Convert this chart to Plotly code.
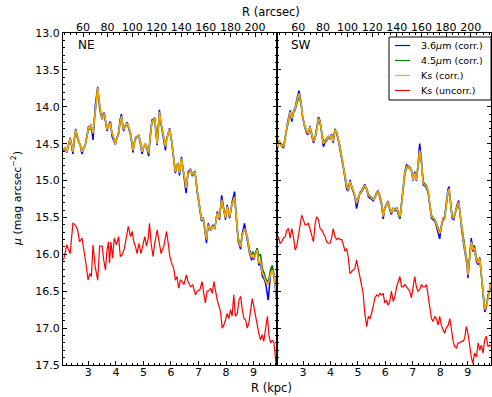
import plotly.graph_objects as go

# ---------------- NE panel ----------------
ne_r = [2.10, 2.16, 2.22, 2.28, 2.34, 2.39, 2.44, 2.49, 2.54, 2.60,
        2.65, 2.71, 2.77, 2.83, 2.89, 2.95, 3.01, 3.06, 3.10, 3.17,
        3.21, 3.25, 3.30, 3.34, 3.38, 3.41, 3.46, 3.50, 3.54, 3.58,
        3.63, 3.68, 3.74, 3.80, 3.86, 3.92, 3.98, 4.04, 4.10, 4.15,
        4.20, 4.24, 4.28, 4.34, 4.41, 4.47, 4.53, 4.58, 4.62, 4.67,
        4.71, 4.77, 4.83, 4.89, 4.95, 5.01, 5.07, 5.13, 5.19, 5.25,
        5.31, 5.36, 5.41, 5.46, 5.50, 5.54, 5.58, 5.63, 5.68, 5.74,
        5.80, 5.84, 5.88, 5.95, 6.02, 6.10, 6.16, 6.25, 6.31, 6.38,
        6.47, 6.55, 6.62, 6.71, 6.77, 6.87, 6.95, 7.04, 7.11, 7.17,
        7.23, 7.29, 7.35, 7.44, 7.52, 7.59, 7.68, 7.76, 7.84, 7.92,
        7.98, 8.04, 8.13, 8.22, 8.31, 8.37, 8.44, 8.53, 8.59, 8.67,
        8.77, 8.85, 8.93, 8.98, 9.01, 9.07, 9.13, 9.19, 9.25, 9.32,
        9.38, 9.44, 9.53, 9.62, 9.68, 9.75, 9.80, 9.85]

ne_36 = [14.60, 14.56, 14.62, 14.50, 14.42, 14.52, 14.64, 14.44, 14.30, 14.41,
         14.47, 14.53, 14.64, 14.56, 14.52, 14.38, 14.26, 14.31, 14.24, 14.45,
         14.18, 13.99, 13.84, 13.73, 13.88, 14.02, 14.12, 14.17, 14.10, 14.08,
         14.22, 14.33, 14.24, 14.20, 14.40, 14.46, 14.51, 14.42, 14.35, 14.18,
         14.10, 14.24, 14.33, 14.26, 14.21, 14.30, 14.38, 14.50, 14.62, 14.49,
         14.42, 14.40, 14.39, 14.50, 14.64, 14.54, 14.50, 14.57, 14.67, 14.38,
         14.18, 14.17, 14.15, 14.37, 14.52, 14.28, 14.04, 14.21, 14.33, 14.45,
         14.59, 14.44, 14.37, 14.29, 14.46, 14.74, 14.90, 14.76, 14.93, 14.68,
         14.92, 15.17, 14.88, 14.85, 14.94, 14.87, 15.15, 15.42, 15.55, 15.50,
         15.66, 15.85, 15.58, 15.68, 15.60, 15.66, 15.42, 15.53, 15.20, 15.41,
         15.53, 15.33, 15.51, 15.29, 15.15, 15.50, 15.82, 15.93, 15.72, 15.58,
         15.78, 15.98, 16.08, 15.98, 16.07, 16.00, 15.92, 16.15, 16.12, 16.30,
         16.33, 16.40, 16.62, 16.25, 16.18, 16.32, 16.47, 16.65]

ne_45 = [14.58, 14.55, 14.60, 14.52, 14.44, 14.50, 14.60, 14.46, 14.32, 14.40,
         14.48, 14.52, 14.60, 14.57, 14.51, 14.41, 14.28, 14.30, 14.26, 14.35,
         14.21, 14.01, 13.86, 13.76, 13.89, 14.00, 14.10, 14.15, 14.12, 14.10,
         14.20, 14.30, 14.26, 14.22, 14.35, 14.44, 14.49, 14.43, 14.37, 14.23,
         14.14, 14.22, 14.30, 14.27, 14.23, 14.28, 14.35, 14.47, 14.58, 14.50,
         14.44, 14.41, 14.38, 14.47, 14.60, 14.55, 14.51, 14.55, 14.62, 14.41,
         14.21, 14.19, 14.17, 14.35, 14.49, 14.31, 14.09, 14.20, 14.31, 14.41,
         14.53, 14.45, 14.39, 14.31, 14.45, 14.71, 14.87, 14.77, 14.89, 14.71,
         14.89, 15.09, 14.91, 14.86, 14.91, 14.88, 15.12, 15.39, 15.52, 15.51,
         15.64, 15.78, 15.61, 15.66, 15.62, 15.64, 15.45, 15.50, 15.27, 15.40,
         15.50, 15.36, 15.48, 15.32, 15.23, 15.48, 15.78, 15.88, 15.73, 15.66,
         15.75, 15.93, 16.02, 15.96, 16.02, 15.98, 15.92, 16.02, 16.00, 16.20,
         16.25, 16.33, 16.38, 16.20, 16.15, 16.28, 16.42, 16.58]

ne_ks = [14.59, 14.55, 14.61, 14.52, 14.43, 14.50, 14.61, 14.45, 14.31, 14.40,
         14.47, 14.52, 14.61, 14.57, 14.52, 14.40, 14.27, 14.30, 14.25, 14.36,
         14.20, 14.00, 13.85, 13.74, 13.88, 14.00, 14.10, 14.16, 14.12, 14.09,
         14.20, 14.31, 14.25, 14.22, 14.36, 14.45, 14.50, 14.43, 14.36, 14.22,
         14.13, 14.22, 14.31, 14.27, 14.22, 14.28, 14.36, 14.48, 14.59, 14.50,
         14.43, 14.41, 14.38, 14.48, 14.61, 14.55, 14.50, 14.55, 14.63, 14.40,
         14.20, 14.18, 14.16, 14.35, 14.50, 14.30, 14.07, 14.20, 14.31, 14.42,
         14.54, 14.45, 14.38, 14.30, 14.45, 14.72, 14.88, 14.77, 14.90, 14.70,
         14.90, 15.10, 14.90, 14.86, 14.92, 14.88, 15.13, 15.40, 15.53, 15.51,
         15.65, 15.80, 15.60, 15.67, 15.62, 15.65, 15.44, 15.51, 15.26, 15.40,
         15.51, 15.35, 15.49, 15.31, 15.22, 15.49, 15.80, 15.90, 15.74, 15.65,
         15.76, 15.96, 16.05, 15.99, 16.05, 16.01, 15.94, 16.12, 16.10, 16.26,
         16.30, 16.37, 16.41, 16.26, 16.21, 16.30, 16.44, 16.60]

ne_r_unc = [2.10, 2.16, 2.22, 2.28, 2.34, 2.44, 2.53, 2.61, 2.68, 2.77,
            2.83, 2.91, 2.99, 3.05, 3.11, 3.17, 3.25, 3.34, 3.41, 3.50,
            3.56, 3.62, 3.68, 3.73, 3.77, 3.82, 3.88, 3.94, 4.02, 4.10,
            4.16, 4.22, 4.31, 4.38, 4.45, 4.53, 4.59, 4.65, 4.71, 4.77,
            4.84, 4.91, 4.99, 5.05, 5.11, 5.17, 5.22, 5.28, 5.35, 5.41,
            5.50, 5.57, 5.64, 5.74, 5.84, 5.90, 5.96, 6.04, 6.10, 6.16,
            6.22, 6.28, 6.34, 6.41, 6.47, 6.56, 6.62, 6.71, 6.79, 6.89,
            6.95, 7.05, 7.13, 7.19, 7.25, 7.31, 7.37, 7.44, 7.50, 7.56,
            7.62, 7.68, 7.74, 7.80, 7.86, 7.92, 7.98, 8.04, 8.10, 8.16,
            8.22, 8.28, 8.34, 8.41, 8.47, 8.53, 8.59, 8.65, 8.71, 8.77,
            8.83, 8.89, 8.95, 9.01, 9.07, 9.13, 9.19, 9.25, 9.31, 9.37,
            9.44, 9.50, 9.56, 9.62, 9.68, 9.74, 9.78, 9.82]

ne_ks_unc = [16.08, 15.99, 15.87, 15.94, 15.99, 15.58, 15.60, 15.67, 15.83, 15.78,
             15.96, 16.12, 16.35, 16.26, 16.30, 15.87, 16.17, 16.35, 15.89, 15.89,
             16.08, 16.21, 15.94, 15.83, 16.12, 15.83, 16.05, 15.78, 15.87, 15.76,
             16.03, 16.01, 15.92, 15.76, 15.62, 15.76, 15.69, 15.83, 15.89, 15.99,
             15.85, 15.99, 15.85, 15.76, 15.89, 15.80, 15.58, 15.85, 16.03, 15.85,
             15.67, 15.85, 15.99, 15.89, 15.69, 15.85, 16.03, 16.14, 16.19, 16.35,
             16.30, 16.46, 16.35, 16.37, 16.41, 16.28, 16.37, 16.44, 16.41, 16.55,
             16.50, 16.48, 16.37, 16.53, 16.66, 16.50, 16.50, 16.46, 16.53, 16.37,
             16.50, 16.62, 16.69, 16.78, 17.00, 16.96, 16.89, 16.80, 16.87, 16.75,
             16.84, 16.55, 16.84, 16.80, 16.62, 16.57, 16.75, 16.87, 16.89, 17.00,
             16.93, 16.75, 16.60, 16.71, 16.84, 16.93, 17.07, 17.16, 17.09, 17.18,
             17.02, 16.84, 17.11, 17.20, 17.16, 17.20, 17.35, 17.52]

# ---------------- SW panel ----------------
sw_r = [2.06, 2.08, 2.13, 2.18, 2.22, 2.29, 2.37, 2.44, 2.53, 2.59,
        2.65, 2.71, 2.78, 2.85, 2.93, 2.98, 3.05, 3.13, 3.19, 3.25,
        3.32, 3.38, 3.44, 3.50, 3.56, 3.62, 3.68, 3.74, 3.80, 3.86,
        3.92, 3.98, 4.04, 4.10, 4.16, 4.22, 4.28, 4.35, 4.41, 4.47,
        4.53, 4.59, 4.65, 4.71, 4.77, 4.83, 4.89, 4.95, 5.01, 5.07,
        5.13, 5.19, 5.25, 5.32, 5.38, 5.44, 5.50, 5.56, 5.62, 5.68,
        5.74, 5.80, 5.86, 5.92, 5.98, 6.04, 6.10, 6.16, 6.22, 6.28,
        6.35, 6.41, 6.47, 6.53, 6.59, 6.65, 6.71, 6.77, 6.83, 6.89,
        6.95, 7.01, 7.07, 7.13, 7.19, 7.25, 7.32, 7.38, 7.44, 7.50,
        7.56, 7.62, 7.68, 7.74, 7.80, 7.86, 7.92, 7.98, 8.04, 8.10,
        8.16, 8.22, 8.28, 8.32, 8.37, 8.43, 8.49, 8.55, 8.61, 8.67,
        8.73, 8.79, 8.85, 8.92, 8.98, 9.01, 9.07, 9.13, 9.19, 9.25,
        9.32, 9.38, 9.44, 9.50, 9.56, 9.62, 9.68, 9.74, 9.80, 9.85]

sw_36 = [14.52, 14.55, 14.46, 14.51, 14.53, 14.56, 14.35, 14.20, 14.05, 14.20,
         14.06, 14.02, 13.89, 13.78, 13.94, 14.14, 14.26, 14.36, 14.38, 14.26,
         14.40, 14.49, 14.42, 14.30, 14.14, 14.19, 14.38, 14.54, 14.48, 14.46,
         14.41, 14.44, 14.37, 14.49, 14.30, 14.35, 14.45, 14.58, 14.72, 14.83,
         14.97, 15.12, 15.14, 14.99, 15.09, 15.16, 15.22, 15.38, 15.25, 15.16,
         15.14, 15.10, 15.05, 15.12, 15.22, 15.24, 15.25, 15.28, 15.23, 15.16,
         15.14, 15.22, 15.33, 15.52, 15.37, 15.32, 15.28, 15.40, 15.46, 15.37,
         15.41, 15.39, 15.46, 15.52, 15.30, 15.05, 14.88, 14.79, 14.80, 14.82,
         14.87, 15.00, 14.88, 15.00, 14.78, 14.50, 14.75, 15.06, 15.07, 15.10,
         15.17, 15.33, 15.51, 15.53, 15.55, 15.62, 15.70, 15.79, 15.61, 15.52,
         15.49, 15.28, 15.12, 15.08, 15.25, 15.51, 15.53, 15.41, 15.33, 15.27,
         15.51, 15.69, 15.86, 16.02, 16.15, 16.32, 16.01, 15.78, 15.96, 15.93,
         16.10, 16.14, 16.04, 16.32, 16.56, 16.78, 16.72, 16.55, 16.50, 16.40]

sw_45 = [14.50, 14.53, 14.48, 14.50, 14.51, 14.53, 14.37, 14.23, 14.09, 14.15,
         14.08, 14.05, 13.93, 13.85, 13.97, 14.12, 14.24, 14.33, 14.35, 14.28,
         14.37, 14.45, 14.43, 14.32, 14.18, 14.21, 14.35, 14.47, 14.46, 14.43,
         14.40, 14.42, 14.39, 14.45, 14.33, 14.34, 14.42, 14.54, 14.68, 14.80,
         14.94, 15.06, 15.11, 15.02, 15.07, 15.14, 15.18, 15.28, 15.23, 15.18,
         15.16, 15.12, 15.08, 15.11, 15.18, 15.21, 15.23, 15.25, 15.24, 15.18,
         15.16, 15.20, 15.29, 15.46, 15.38, 15.34, 15.30, 15.37, 15.42, 15.38,
         15.39, 15.37, 15.42, 15.52, 15.32, 15.10, 14.92, 14.83, 14.82, 14.84,
         14.86, 14.97, 14.91, 14.97, 14.83, 14.62, 14.78, 15.02, 15.05, 15.07,
         15.14, 15.29, 15.47, 15.50, 15.52, 15.58, 15.65, 15.70, 15.63, 15.54,
         15.52, 15.33, 15.17, 15.13, 15.27, 15.47, 15.50, 15.43, 15.36, 15.30,
         15.47, 15.65, 15.80, 15.96, 16.10, 16.25, 16.05, 15.85, 15.90, 15.88,
         16.05, 16.10, 16.06, 16.27, 16.50, 16.72, 16.70, 16.58, 16.45, 16.38]

sw_ks = [14.50, 14.54, 14.47, 14.50, 14.52, 14.54, 14.36, 14.22, 14.07, 14.16,
         14.07, 14.04, 13.91, 13.82, 13.95, 14.13, 14.25, 14.34, 14.36, 14.27,
         14.38, 14.47, 14.43, 14.31, 14.16, 14.20, 14.36, 14.50, 14.47, 14.45,
         14.40, 14.43, 14.38, 14.47, 14.31, 14.34, 14.43, 14.56, 14.70, 14.81,
         14.95, 15.08, 15.13, 15.01, 15.08, 15.15, 15.20, 15.31, 15.24, 15.17,
         15.15, 15.11, 15.06, 15.11, 15.20, 15.22, 15.24, 15.26, 15.24, 15.17,
         15.15, 15.21, 15.31, 15.49, 15.38, 15.33, 15.29, 15.38, 15.44, 15.38,
         15.40, 15.38, 15.44, 15.49, 15.31, 15.08, 14.90, 14.81, 14.81, 14.83,
         14.86, 14.99, 14.90, 14.99, 14.81, 14.59, 14.77, 15.04, 15.06, 15.08,
         15.15, 15.31, 15.49, 15.51, 15.53, 15.60, 15.67, 15.72, 15.62, 15.53,
         15.51, 15.31, 15.15, 15.11, 15.26, 15.49, 15.51, 15.42, 15.35, 15.29,
         15.49, 15.67, 15.83, 15.99, 16.12, 16.28, 16.03, 15.83, 15.94, 15.92,
         16.08, 16.12, 16.05, 16.30, 16.53, 16.75, 16.71, 16.57, 16.48, 16.39]

sw_r_unc = [2.04, 2.10, 2.16, 2.22, 2.28, 2.35, 2.41, 2.47, 2.53, 2.59,
            2.65, 2.71, 2.77, 2.83, 2.89, 2.95, 3.01, 3.07, 3.13, 3.19,
            3.25, 3.32, 3.38, 3.44, 3.50, 3.56, 3.62, 3.68, 3.74, 3.80,
            3.86, 3.92, 3.98, 4.04, 4.10, 4.16, 4.22, 4.28, 4.35, 4.41,
            4.47, 4.53, 4.59, 4.65, 4.71, 4.77, 4.83, 4.89, 4.95, 5.01,
            5.07, 5.13, 5.19, 5.25, 5.32, 5.38, 5.44, 5.50, 5.56, 5.62,
            5.68, 5.74, 5.80, 5.86, 5.92, 5.98, 6.04, 6.10, 6.16, 6.22,
            6.29, 6.35, 6.41, 6.47, 6.53, 6.59, 6.65, 6.71, 6.77, 6.83,
            6.89, 6.95, 7.01, 7.07, 7.13, 7.19, 7.25, 7.32, 7.38, 7.44,
            7.50, 7.56, 7.62, 7.68, 7.74, 7.80, 7.86, 7.92, 7.98, 8.04,
            8.10, 8.16, 8.22, 8.29, 8.35, 8.41, 8.47, 8.53, 8.59, 8.65,
            8.71, 8.77, 8.83, 8.89, 8.95, 9.01, 9.07, 9.13, 9.19, 9.25,
            9.32, 9.38, 9.44, 9.50, 9.56, 9.62, 9.68, 9.74, 9.80, 9.86]

sw_ks_unc = [15.80, 15.76, 15.85, 15.83, 15.78, 15.76, 15.67, 15.65, 15.78, 15.65,
             15.76, 15.94, 15.89, 15.76, 15.62, 15.47, 15.53, 15.60, 15.60, 15.58,
             15.65, 15.76, 15.83, 15.58, 15.49, 15.53, 15.65, 15.67, 15.71, 15.76,
             15.83, 15.85, 15.85, 15.78, 15.65, 15.76, 15.80, 15.78, 15.80, 15.80,
             15.87, 15.96, 15.92, 16.05, 16.26, 16.23, 16.21, 16.19, 16.08, 16.19,
             16.30, 16.41, 16.53, 16.80, 16.98, 16.84, 16.87, 16.80, 16.71, 16.59,
             16.55, 16.57, 16.53, 16.55, 16.53, 16.66, 16.62, 16.69, 16.64, 16.50,
             16.64, 16.57, 16.44, 16.37, 16.30, 16.44, 16.44, 16.41, 16.44, 16.46,
             16.50, 16.59, 16.44, 16.30, 16.44, 16.50, 16.48, 16.41, 16.44, 16.44,
             16.41, 16.57, 16.75, 16.87, 16.91, 16.84, 16.87, 16.96, 16.84, 16.96,
             17.02, 17.07, 17.00, 16.96, 16.87, 17.07, 17.18, 17.25, 17.27, 17.20,
             17.20, 17.18, 17.18, 17.14, 16.98, 17.07, 17.25, 17.39, 17.48, 17.34,
             17.39, 17.20, 17.30, 17.23, 17.34, 17.16, 17.11, 17.25, 17.23, 17.25]

series_names = ["3.6<i>μ</i>m (corr.)", "4.5<i>μ</i>m (corr.)", "Ks (corr.)", "Ks (uncorr.)"]
series_colors = ["#0000ff", "#008000", "#ffa500", "#ff0000"]
panel_labels = ["NE", "SW"]
kpc_ticks = [3, 4, 5, 6, 7, 8, 9]
arcsec_ticks = [60, 80, 100, 120, 140, 160, 180, 200]
mu_ticks = [13.0, 13.5, 14.0, 14.5, 15.0, 15.5, 16.0, 16.5, 17.0, 17.5]

FONT = "DejaVu Sans"

# plot-area geometry in window pixels
W, H = 492, 397
PL, PR, PT, PB = 63, 491, 33, 365


def px(x):
    return (x - PL) / (PR - PL)


def py(y):
    return (PB - y) / (PB - PT)


fig = go.Figure()

panels = [
    ("x", "y", ne_r, [ne_36, ne_45, ne_ks], ne_r_unc, ne_ks_unc),
    ("x2", "y2", sw_r, [sw_36, sw_45, sw_ks], sw_r_unc, sw_ks_unc),
]
for xa, ya, r, corr, r_unc, unc in panels:
    for i, vals in enumerate(corr):
        fig.add_trace(go.Scatter(x=r, y=vals, mode="lines", xaxis=xa, yaxis=ya,
                                 name=series_names[i], showlegend=False,
                                 line=dict(color=series_colors[i], width=1.5),
                                 hoverinfo="skip"))
    fig.add_trace(go.Scatter(x=r_unc, y=unc, mode="lines", xaxis=xa, yaxis=ya,
                             name=series_names[3], showlegend=False,
                             line=dict(color=series_colors[3], width=1.2),
                             hoverinfo="skip"))

# empty traces binding the top (arcsec) axes
fig.add_trace(go.Scatter(x=[], y=[], xaxis="x3", yaxis="y", showlegend=False, hoverinfo="skip"))
fig.add_trace(go.Scatter(x=[], y=[], xaxis="x4", yaxis="y2", showlegend=False, hoverinfo="skip"))

tickfont = dict(family=FONT, size=11, color="black")
common_x = dict(showgrid=False, zeroline=False, showline=True, linecolor="black", linewidth=1,
                ticks="inside", ticklen=4, tickcolor="black", tickfont=tickfont,
                tickvals=kpc_ticks, ticklabelstandoff=-3,
                minor=dict(ticks="inside", ticklen=2, dtick=0.2, tick0=0, tickcolor="black"))
common_top = dict(showgrid=False, zeroline=False, showline=True, linecolor="black", linewidth=1,
                  ticks="inside", ticklen=4, tickcolor="black", tickfont=tickfont,
                  side="top", tickvals=arcsec_ticks, ticklabelstandoff=-3,
                  minor=dict(ticks="inside", ticklen=2, dtick=5, tick0=0, tickcolor="black"))
common_y = dict(showgrid=False, zeroline=False, showline=True, linecolor="black", linewidth=1,
                ticks="inside", ticklen=4, tickcolor="black", tickfont=tickfont,
                range=[17.5, 13.0], tickvals=mu_ticks, tickformat=".1f", mirror="ticks",
                minor=dict(ticks="inside", ticklen=2, dtick=0.1, tick0=0, tickcolor="black"))

fig.update_layout(
    width=W, height=H,
    margin=dict(l=PL, r=W - PR, t=PT, b=H - PB, pad=0),
    paper_bgcolor="white", plot_bgcolor="white",
    font=dict(family=FONT, size=11, color="black"),
    xaxis=dict(common_x, domain=[0, 0.5], anchor="y", range=[2.08, 9.85]),
    xaxis2=dict(common_x, domain=[0.5, 1.0], anchor="y2", range=[2.05, 9.85]),
    xaxis3=dict(common_top, overlaying="x", anchor="y", range=[43.7, 217.9]),
    xaxis4=dict(common_top, overlaying="x2", anchor="y2", range=[42.7, 216.5]),
    yaxis=dict(common_y, anchor="x", domain=[0, 1]),
    yaxis2=dict(common_y, anchor="x2", domain=[0, 1], showticklabels=False),
    showlegend=False,
)

# legend (drawn as a boxed key in the SW panel)
shapes = [dict(type="rect", xref="paper", yref="paper", x0=px(389), x1=px(491),
               y0=py(100), y1=py(37), fillcolor="white",
               line=dict(color="black", width=1), layer="above")]
annos = []
row_y = [45.5, 60.5, 75.5, 90.5]
for i in range(4):
    shapes.append(dict(type="line", xref="paper", yref="paper", x0=px(395), x1=px(410),
                       y0=py(row_y[i]), y1=py(row_y[i]),
                       line=dict(color=series_colors[i], width=1.2), layer="above"))
    annos.append(dict(text=series_names[i], x=px(419), y=py(row_y[i]), xref="paper", yref="paper",
                      showarrow=False, font=dict(size=9.5), xanchor="left", yanchor="middle"))

annos += [
    dict(text=panel_labels[0], x=px(86), y=py(44.5), xref="paper", yref="paper",
         showarrow=False, font=dict(size=12), xanchor="center", yanchor="middle"),
    dict(text=panel_labels[1], x=px(300.5), y=py(45), xref="paper", yref="paper",
         showarrow=False, font=dict(size=12), xanchor="center", yanchor="middle"),
    dict(text="R (arcsec)", x=px(271), y=py(12), xref="paper", yref="paper",
         showarrow=False, font=dict(size=11.5), xanchor="center", yanchor="middle"),
    dict(text="R (kpc)", x=px(271), y=py(388), xref="paper", yref="paper",
         showarrow=False, font=dict(size=11.5), xanchor="center", yanchor="middle"),
    dict(text="<i>μ</i> (mag arcsec<sup>−2</sup>)", x=px(16), y=py(199), xref="paper", yref="paper",
         showarrow=False, font=dict(size=11), textangle=-90, xanchor="center", yanchor="middle"),
]
fig.update_layout(annotations=annos, shapes=shapes)

# remove the browser's default page margin so the figure sits at the window origin
fig.write_html("out.html",
               config={"displayModeBar": False},
               post_script="document.body.style.margin='0';document.body.style.overflow='hidden';")
